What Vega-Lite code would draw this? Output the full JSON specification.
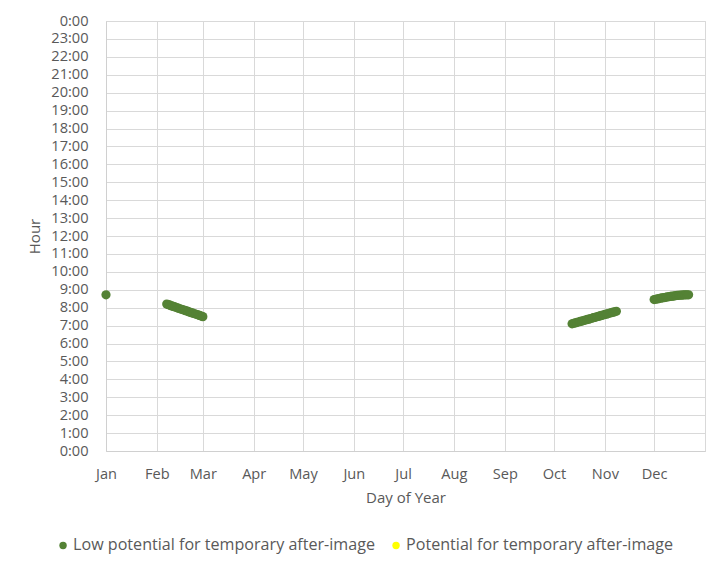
{
  "$schema": "https://vega.github.io/schema/vega-lite/v6.json",
  "autosize": {"type": "none"},
  "width": 599,
  "height": 430,
  "padding": {"left": 106, "top": 21, "right": 13, "bottom": 119},
  "background": "white",
  "config": {
    "font": "Open Sans",
    "view": {"stroke": "#d9d9d9", "strokeWidth": 1},
    "axis": {
      "labelFont": "Open Sans",
      "titleFont": "Open Sans",
      "labelColor": "#595959",
      "titleColor": "#595959",
      "labelFontSize": 14.6,
      "titleFontSize": 15,
      "titleFontWeight": "normal",
      "gridColor": "#d9d9d9",
      "gridWidth": 1,
      "domainColor": "#d0d0d0",
      "ticks": false,
      "labelFlush": false,
      "labelOverlap": false
    },
    "legend": {
      "labelFont": "Open Sans",
      "labelFontSize": 16.1,
      "labelColor": "#595959",
      "labelLimit": 0
    }
  },
  "data": {
    "values": [
      {"day": 1, "hour": 8.72, "category": "Low potential for temporary after-image"},
      {"day": 38, "hour": 8.20, "category": "Low potential for temporary after-image"},
      {"day": 39, "hour": 8.17, "category": "Low potential for temporary after-image"},
      {"day": 40, "hour": 8.14, "category": "Low potential for temporary after-image"},
      {"day": 41, "hour": 8.10, "category": "Low potential for temporary after-image"},
      {"day": 42, "hour": 8.07, "category": "Low potential for temporary after-image"},
      {"day": 43, "hour": 8.04, "category": "Low potential for temporary after-image"},
      {"day": 44, "hour": 8.01, "category": "Low potential for temporary after-image"},
      {"day": 45, "hour": 7.97, "category": "Low potential for temporary after-image"},
      {"day": 46, "hour": 7.94, "category": "Low potential for temporary after-image"},
      {"day": 47, "hour": 7.91, "category": "Low potential for temporary after-image"},
      {"day": 48, "hour": 7.88, "category": "Low potential for temporary after-image"},
      {"day": 49, "hour": 7.85, "category": "Low potential for temporary after-image"},
      {"day": 50, "hour": 7.82, "category": "Low potential for temporary after-image"},
      {"day": 51, "hour": 7.79, "category": "Low potential for temporary after-image"},
      {"day": 52, "hour": 7.75, "category": "Low potential for temporary after-image"},
      {"day": 53, "hour": 7.72, "category": "Low potential for temporary after-image"},
      {"day": 54, "hour": 7.69, "category": "Low potential for temporary after-image"},
      {"day": 55, "hour": 7.66, "category": "Low potential for temporary after-image"},
      {"day": 56, "hour": 7.63, "category": "Low potential for temporary after-image"},
      {"day": 57, "hour": 7.60, "category": "Low potential for temporary after-image"},
      {"day": 58, "hour": 7.57, "category": "Low potential for temporary after-image"},
      {"day": 59, "hour": 7.53, "category": "Low potential for temporary after-image"},
      {"day": 60, "hour": 7.50, "category": "Low potential for temporary after-image"},
      {"day": 285, "hour": 7.10, "category": "Low potential for temporary after-image"},
      {"day": 286, "hour": 7.13, "category": "Low potential for temporary after-image"},
      {"day": 287, "hour": 7.15, "category": "Low potential for temporary after-image"},
      {"day": 288, "hour": 7.18, "category": "Low potential for temporary after-image"},
      {"day": 289, "hour": 7.20, "category": "Low potential for temporary after-image"},
      {"day": 290, "hour": 7.23, "category": "Low potential for temporary after-image"},
      {"day": 291, "hour": 7.25, "category": "Low potential for temporary after-image"},
      {"day": 292, "hour": 7.28, "category": "Low potential for temporary after-image"},
      {"day": 293, "hour": 7.31, "category": "Low potential for temporary after-image"},
      {"day": 294, "hour": 7.33, "category": "Low potential for temporary after-image"},
      {"day": 295, "hour": 7.36, "category": "Low potential for temporary after-image"},
      {"day": 296, "hour": 7.38, "category": "Low potential for temporary after-image"},
      {"day": 297, "hour": 7.41, "category": "Low potential for temporary after-image"},
      {"day": 298, "hour": 7.44, "category": "Low potential for temporary after-image"},
      {"day": 299, "hour": 7.46, "category": "Low potential for temporary after-image"},
      {"day": 300, "hour": 7.49, "category": "Low potential for temporary after-image"},
      {"day": 301, "hour": 7.51, "category": "Low potential for temporary after-image"},
      {"day": 302, "hour": 7.54, "category": "Low potential for temporary after-image"},
      {"day": 303, "hour": 7.57, "category": "Low potential for temporary after-image"},
      {"day": 304, "hour": 7.59, "category": "Low potential for temporary after-image"},
      {"day": 305, "hour": 7.62, "category": "Low potential for temporary after-image"},
      {"day": 306, "hour": 7.64, "category": "Low potential for temporary after-image"},
      {"day": 307, "hour": 7.67, "category": "Low potential for temporary after-image"},
      {"day": 308, "hour": 7.70, "category": "Low potential for temporary after-image"},
      {"day": 309, "hour": 7.72, "category": "Low potential for temporary after-image"},
      {"day": 310, "hour": 7.75, "category": "Low potential for temporary after-image"},
      {"day": 311, "hour": 7.77, "category": "Low potential for temporary after-image"},
      {"day": 312, "hour": 7.80, "category": "Low potential for temporary after-image"},
      {"day": 335, "hour": 8.45, "category": "Low potential for temporary after-image"},
      {"day": 336, "hour": 8.47, "category": "Low potential for temporary after-image"},
      {"day": 337, "hour": 8.49, "category": "Low potential for temporary after-image"},
      {"day": 338, "hour": 8.51, "category": "Low potential for temporary after-image"},
      {"day": 339, "hour": 8.53, "category": "Low potential for temporary after-image"},
      {"day": 340, "hour": 8.55, "category": "Low potential for temporary after-image"},
      {"day": 341, "hour": 8.56, "category": "Low potential for temporary after-image"},
      {"day": 342, "hour": 8.58, "category": "Low potential for temporary after-image"},
      {"day": 343, "hour": 8.60, "category": "Low potential for temporary after-image"},
      {"day": 344, "hour": 8.61, "category": "Low potential for temporary after-image"},
      {"day": 345, "hour": 8.63, "category": "Low potential for temporary after-image"},
      {"day": 346, "hour": 8.64, "category": "Low potential for temporary after-image"},
      {"day": 347, "hour": 8.65, "category": "Low potential for temporary after-image"},
      {"day": 348, "hour": 8.67, "category": "Low potential for temporary after-image"},
      {"day": 349, "hour": 8.68, "category": "Low potential for temporary after-image"},
      {"day": 350, "hour": 8.69, "category": "Low potential for temporary after-image"},
      {"day": 351, "hour": 8.70, "category": "Low potential for temporary after-image"},
      {"day": 352, "hour": 8.70, "category": "Low potential for temporary after-image"},
      {"day": 353, "hour": 8.71, "category": "Low potential for temporary after-image"},
      {"day": 354, "hour": 8.72, "category": "Low potential for temporary after-image"},
      {"day": 355, "hour": 8.72, "category": "Low potential for temporary after-image"},
      {"day": 356, "hour": 8.72, "category": "Low potential for temporary after-image"}
    ]
  },
  "mark": {"type": "point", "filled": true, "opacity": 1, "size": 85, "shape": "circle"},
  "encoding": {
    "x": {
      "field": "day",
      "type": "quantitative",
      "scale": {"domain": [1, 366], "nice": false, "zero": false},
      "axis": {
        "title": "Day of Year",
        "values": [1, 32, 60, 91, 121, 152, 182, 213, 244, 274, 305, 335, 366],
        "labelExpr": "datum.value == 366 ? '' : ['Jan','Feb','Mar','Apr','May','Jun','Jul','Aug','Sep','Oct','Nov','Dec'][indexof([1,32,60,91,121,152,182,213,244,274,305,335], datum.value)]",
        "labelPadding": 15,
        "titlePadding": 10,
        "grid": true
      }
    },
    "y": {
      "field": "hour",
      "type": "quantitative",
      "scale": {"domain": [0, 24], "nice": false},
      "axis": {
        "title": "Hour",
        "values": [0, 1, 2, 3, 4, 5, 6, 7, 8, 9, 10, 11, 12, 13, 14, 15, 16, 17, 18, 19, 20, 21, 22, 23, 24],
        "labelExpr": "datum.value == 24 ? '0:00' : datum.value + ':00'",
        "labelPadding": 18,
        "titlePadding": 8,
        "grid": true
      }
    },
    "color": {
      "field": "category",
      "type": "nominal",
      "scale": {
        "domain": ["Low potential for temporary after-image", "Potential for temporary after-image"],
        "range": ["#548235", "#ffff00"]
      },
      "legend": {
        "title": null,
        "orient": "none",
        "direction": "horizontal",
        "legendX": -51,
        "legendY": 516,
        "symbolType": "circle",
        "symbolSize": 55,
        "symbolStrokeWidth": 0,
        "labelOffset": 2,
        "columnPadding": 13
      }
    }
  }
}
